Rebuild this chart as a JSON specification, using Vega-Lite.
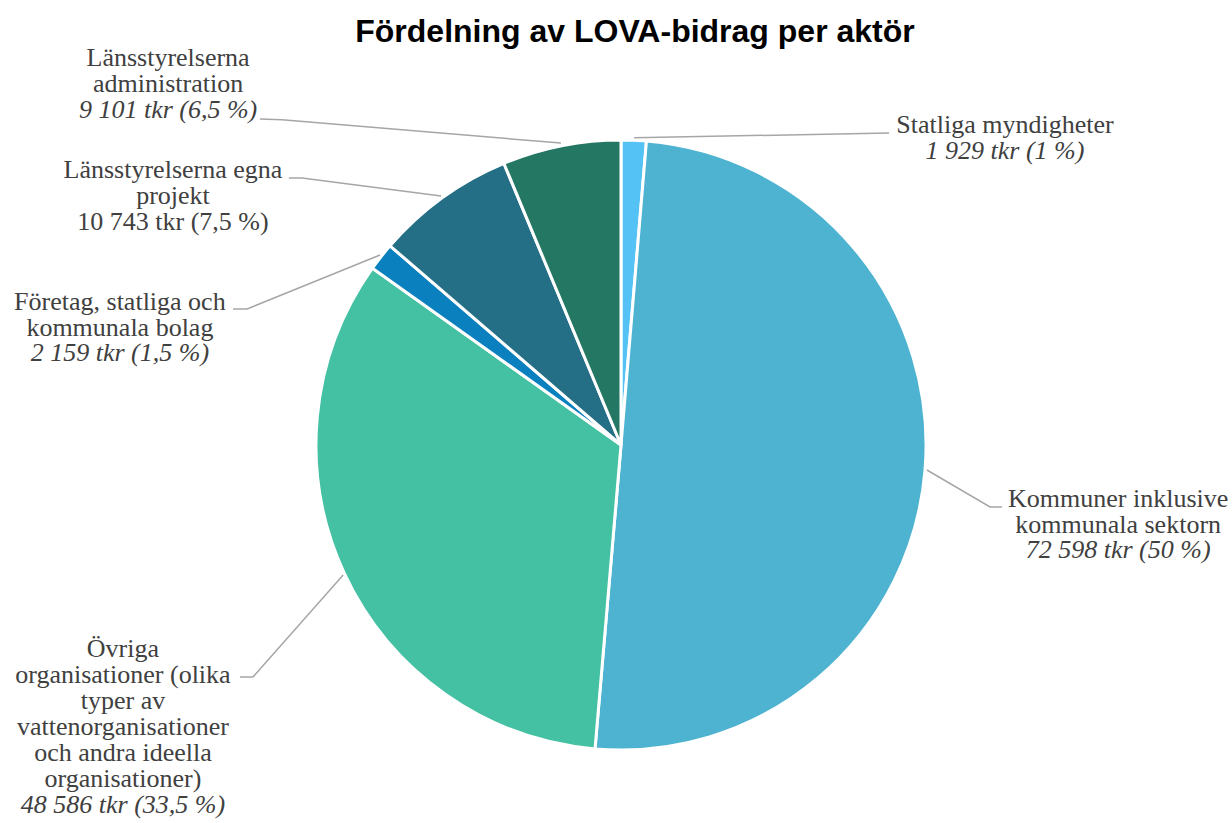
{
  "$schema": "https://vega.github.io/schema/vega-lite/v6.json",
  "autosize": "none",
  "width": 1222,
  "height": 756,
  "padding": {"left": 10, "top": 67, "right": 0, "bottom": 0},
  "background": "white",
  "config": {"view": {"stroke": null}},
  "title": {
    "text": "Fördelning av LOVA-bidrag per aktör",
    "font": "Liberation Sans",
    "fontSize": 32,
    "fontWeight": "bold",
    "color": "#000000",
    "anchor": "middle",
    "dx": 14,
    "offset": -4
  },
  "datasets": {
    "slices": [
      {"idx": 1, "name": "Statliga myndigheter", "value": 1929},
      {"idx": 2, "name": "Kommuner inklusive kommunala sektorn", "value": 72598},
      {"idx": 3, "name": "Övriga organisationer", "value": 48586},
      {"idx": 4, "name": "Företag, statliga och kommunala bolag", "value": 2159},
      {"idx": 5, "name": "Länsstyrelserna egna projekt", "value": 10743},
      {"idx": 6, "name": "Länsstyrelserna administration", "value": 9101}
    ],
    "leaders": [
      {"series": "adm", "k": 1, "u": -1.184, "v": 1.069},
      {"series": "adm", "k": 2, "u": -1.111, "v": 1.066},
      {"series": "adm", "k": 3, "u": -0.197, "v": 0.990},
      {"series": "egna", "k": 1, "u": -1.089, "v": 0.875},
      {"series": "egna", "k": 2, "u": -1.046, "v": 0.875},
      {"series": "egna", "k": 3, "u": -0.590, "v": 0.816},
      {"series": "ftg", "k": 1, "u": -1.272, "v": 0.446},
      {"series": "ftg", "k": 2, "u": -1.226, "v": 0.446},
      {"series": "ftg", "k": 3, "u": -0.790, "v": 0.623},
      {"series": "stat", "k": 1, "u": 0.043, "v": 1.007},
      {"series": "stat", "k": 2, "u": 0.879, "v": 1.023},
      {"series": "komm", "k": 1, "u": 1.003, "v": -0.082},
      {"series": "komm", "k": 2, "u": 1.210, "v": -0.203},
      {"series": "komm", "k": 3, "u": 1.249, "v": -0.203},
      {"series": "ovr", "k": 1, "u": -1.249, "v": -0.761},
      {"series": "ovr", "k": 2, "u": -1.207, "v": -0.761},
      {"series": "ovr", "k": 3, "u": -0.911, "v": -0.426}
    ],
    "labels": [
      {"line": "Länsstyrelserna", "u": -1.485, "v": 1.243, "italic": false},
      {"line": "administration", "u": -1.485, "v": 1.157, "italic": false},
      {"line": "9 101 tkr (6,5 %)", "u": -1.485, "v": 1.072, "italic": true},
      {"line": "Länsstyrelserna egna", "u": -1.469, "v": 0.875, "italic": false},
      {"line": "projekt", "u": -1.469, "v": 0.790, "italic": false},
      {"line": "10 743 tkr (7,5 %)", "u": -1.469, "v": 0.705, "italic": false},
      {"line": "Företag, statliga och", "u": -1.643, "v": 0.443, "italic": false},
      {"line": "kommunala bolag", "u": -1.643, "v": 0.357, "italic": false},
      {"line": "2 159 tkr (1,5 %)", "u": -1.643, "v": 0.275, "italic": true},
      {"line": "Statliga myndigheter", "u": 1.259, "v": 1.023, "italic": false},
      {"line": "1 929 tkr (1 %)", "u": 1.259, "v": 0.938, "italic": true},
      {"line": "Kommuner inklusive", "u": 1.630, "v": -0.203, "italic": false},
      {"line": "kommunala sektorn", "u": 1.630, "v": -0.289, "italic": false},
      {"line": "72 598 tkr (50 %)", "u": 1.630, "v": -0.370, "italic": true},
      {"line": "Övriga", "u": -1.633, "v": -0.695, "italic": false},
      {"line": "organisationer (olika", "u": -1.633, "v": -0.780, "italic": false},
      {"line": "typer av", "u": -1.633, "v": -0.866, "italic": false},
      {"line": "vattenorganisationer", "u": -1.633, "v": -0.951, "italic": false},
      {"line": "och andra ideella", "u": -1.633, "v": -1.036, "italic": false},
      {"line": "organisationer)", "u": -1.633, "v": -1.121, "italic": false},
      {"line": "48 586 tkr (33,5 %)", "u": -1.633, "v": -1.207, "italic": true}
    ]
  },
  "resolve": {"scale": {"x": "shared", "y": "shared"}},
  "layer": [
    {
      "data": {"name": "slices"},
      "mark": {"type": "arc", "outerRadius": 305, "stroke": "white", "strokeWidth": 3},
      "encoding": {
        "theta": {"field": "value", "type": "quantitative", "stack": true},
        "order": {"field": "idx", "type": "quantitative"},
        "color": {
          "field": "name",
          "type": "nominal",
          "legend": null,
          "scale": {
            "domain": ["Statliga myndigheter", "Kommuner inklusive kommunala sektorn", "Övriga organisationer", "Företag, statliga och kommunala bolag", "Länsstyrelserna egna projekt", "Länsstyrelserna administration"],
            "range": ["#55C2F5", "#4DB3D0", "#44C1A3", "#0B80BF", "#246F86", "#247763"]
          }
        }
      }
    },
    {
      "data": {"name": "leaders"},
      "mark": {"type": "line", "color": "#A6A6A6", "strokeWidth": 1.5},
      "encoding": {
        "x": {"field": "u", "type": "quantitative", "axis": null, "scale": {"domain": [-2.0033, 2.0033], "nice": false, "zero": false}},
        "y": {"field": "v", "type": "quantitative", "axis": null, "scale": {"domain": [-1.2393, 1.2393], "nice": false, "zero": false}},
        "detail": {"field": "series", "type": "nominal"},
        "order": {"field": "k", "type": "quantitative"}
      }
    },
    {
      "data": {"name": "labels"},
      "transform": [{"filter": "!datum.italic"}],
      "mark": {"type": "text", "font": "Liberation Serif", "fontSize": 26, "color": "#404040", "align": "center", "baseline": "alphabetic"},
      "encoding": {
        "x": {"field": "u", "type": "quantitative"},
        "y": {"field": "v", "type": "quantitative"},
        "text": {"field": "line"}
      }
    },
    {
      "data": {"name": "labels"},
      "transform": [{"filter": "datum.italic"}],
      "mark": {"type": "text", "font": "Liberation Serif", "fontSize": 26, "fontStyle": "italic", "color": "#404040", "align": "center", "baseline": "alphabetic"},
      "encoding": {
        "x": {"field": "u", "type": "quantitative"},
        "y": {"field": "v", "type": "quantitative"},
        "text": {"field": "line"}
      }
    }
  ]
}
